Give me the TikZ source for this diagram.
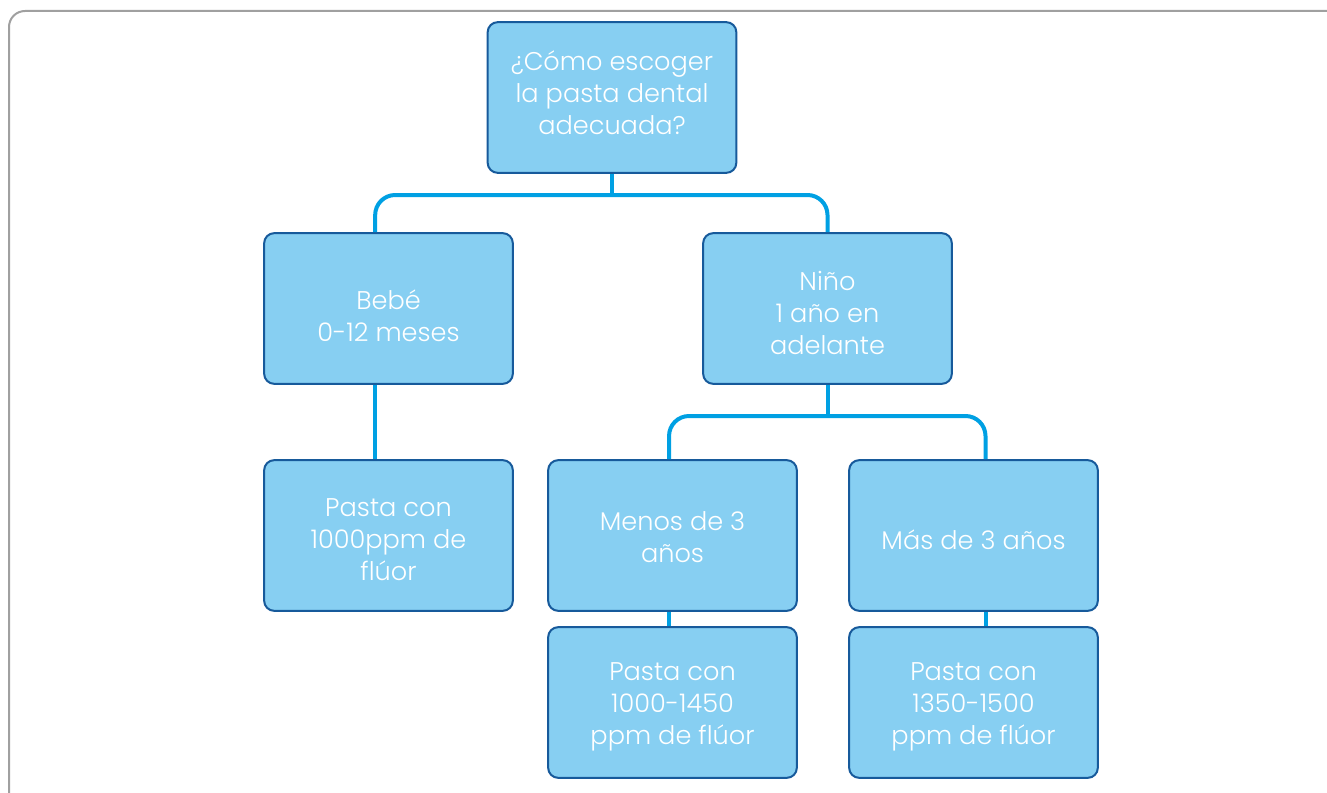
\documentclass[tikz,border=0pt]{standalone}
\usepackage{fontspec}
\setmainfont{Poppins Light}
\definecolor{boxfill}{HTML}{87CFF2}
\definecolor{boxline}{HTML}{175A9B}
\definecolor{linkblue}{HTML}{00A0E3}
\definecolor{framegray}{HTML}{A0A0A0}
\begin{document}
\begin{tikzpicture}[x=0.75pt,y=-0.75pt,
	box/.style={draw=boxline,fill=boxfill,line width=1.5pt,rounded corners=7.5pt,
		minimum width=186.5pt,minimum height=113pt},
	boxtext/.style={align=center,text=white,yshift=-3.4pt,
		font=\fontsize{19.2}{24}\selectfont},
	link/.style={draw=linkblue,line width=3pt}]
	\useasboundingbox (0,0) rectangle (1327,792);
	\clip (0,0) rectangle (1327,792);
	\draw[framegray,line width=1.5pt,rounded corners=12pt] (9,11) rectangle (1345,810);
	% boxes
	\node[box,label={[boxtext,yshift=6.75pt,name=root-t]center:¿Cómo escoger\\la pasta dental\\adecuada?}] (root) at (612,97.5) {};
	\node[box,label={[boxtext,yshift=-2pt,name=bebe-t]center:Bebé\\0-12 meses}] (bebe) at (388.5,308.5) {};
	\node[box,label={[boxtext,name=nino-t]center:Niño\\1 año en\\adelante}] (nino) at (827.5,308.5) {};
	\node[box,label={[boxtext,name=pbebe-t]center:Pasta con\\1000ppm de\\flúor}] (pbebe) at (388.5,535.5) {};
	\node[box,label={[boxtext,yshift=2pt,name=menos-t]center:Menos de 3\\años}] (menos) at (672.5,535.5) {};
	\node[box,label={[boxtext,name=mas-t]center:Más de 3 años}] (mas) at (973.5,535.5) {};
	\node[box,label={[boxtext,name=pmenos-t]center:Pasta con\\1000-1450\\ppm de flúor}] (pmenos) at (672.5,702.5) {};
	\node[box,label={[boxtext,name=pmas-t]center:Pasta con\\1350-1500\\ppm de flúor}] (pmas) at (973.5,702.5) {};
	% links
	\coordinate (split1) at (612,195);
	\coordinate (split2) at (827.5,416);
	\draw[link] (root.south) -- (split1);
	\draw[link,rounded corners=15pt] ([xshift=-10pt]bebe.north) |- (split1) -| (nino.north);
	\draw[link] (nino.south) -- (split2);
	\draw[link,rounded corners=15pt] ([xshift=-2.6pt]menos.north) |- (split2) -| ([xshift=9pt]mas.north);
	\draw[link] ([xshift=-10pt]bebe.south) -- ([xshift=-10pt]pbebe.north);
	\draw[link] ([xshift=-2.6pt]menos.south) -- ([xshift=-2.6pt]pmenos.north);
	\draw[link] ([xshift=9pt]mas.south) -- ([xshift=9pt]pmas.north);
\end{tikzpicture}
\end{document}
